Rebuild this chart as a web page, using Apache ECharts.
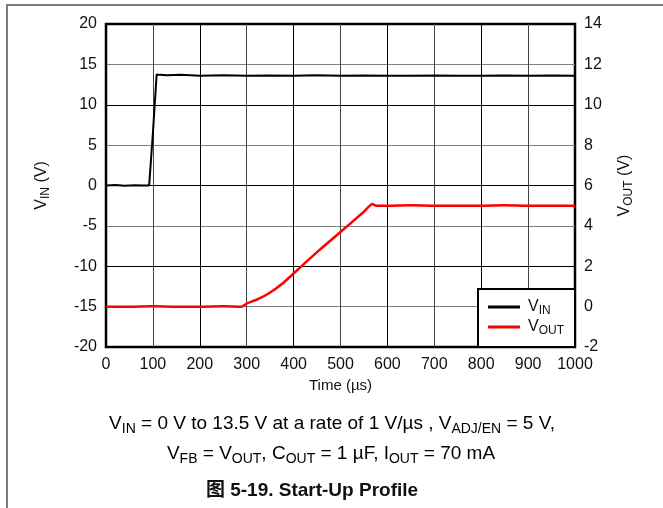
<!DOCTYPE html>
<html>
<head>
<meta charset="utf-8">
<script src="https://cdn.jsdelivr.net/npm/echarts@6/dist/echarts.min.js"></script>
<style>
  html, body { margin: 0; padding: 0; background: #fff; }
  #frame { position: absolute; left: 6px; top: 4px; width: 657px; height: 504px;
    border-top: 2px solid #7a7a7a; border-left: 2px solid #7a7a7a; box-sizing: border-box; }
  #main { position: absolute; left: 0; top: 0; width: 663px; height: 508px; }
</style>
</head>
<body>
<div id="frame"></div>
<div id="main"></div>
<script>
// V_IN trace (left axis, V) vs time (µs)
var vinTime = [0, 20, 40, 60, 80, 92, 100, 108, 115, 130, 160, 200, 250, 300, 350, 400, 450, 500, 550, 600, 650, 700, 750, 800, 850, 900, 950, 1000];
var vinVolt = [0, 0.05, -0.03, 0.02, 0, 0, 6.5, 13.75, 13.7, 13.65, 13.7, 13.6, 13.65, 13.6, 13.62, 13.6, 13.65, 13.6, 13.62, 13.6, 13.6, 13.62, 13.6, 13.6, 13.62, 13.6, 13.62, 13.6];

// V_OUT trace (right axis, V) vs time (µs)
var voutTime = [0, 50, 100, 150, 200, 250, 289, 300, 325, 350, 375, 400, 425, 450, 475, 500, 525, 550, 568, 576, 600, 650, 700, 750, 800, 850, 900, 950, 1000];
var voutVolt = [0, 0, 0.02, 0, 0, 0.02, 0, 0.15, 0.38, 0.7, 1.12, 1.64, 2.18, 2.7, 3.2, 3.7, 4.2, 4.7, 5.08, 5.0, 5.0, 5.02, 5.0, 5.0, 5.0, 5.02, 5.0, 5.0, 5.0];

var xTicks = { min: 0, max: 1000, step: 100 };
var leftTicks = { min: -20, max: 20, step: 5 };
var rightTicks = { min: -2, max: 14, step: 2 };

function zip(a, b) { return a.map(function (v, i) { return [v, b[i]]; }); }

var FONT = '"Liberation Sans", Arial, sans-serif';
var subRich = {
  a: { fontSize: 16, fontFamily: FONT, color: '#111', lineHeight: 20, verticalAlign: 'middle' },
  s: { fontSize: 12, fontFamily: FONT, color: '#111', lineHeight: 14, verticalAlign: 'bottom' }
};
var capRich = {
  n: { fontSize: 19, fontFamily: FONT, color: '#111', lineHeight: 24, verticalAlign: 'middle' },
  s: { fontSize: 14, fontFamily: FONT, color: '#111', lineHeight: 16, verticalAlign: 'bottom' }
};
var tickLabel = { fontSize: 16, fontFamily: FONT, color: '#111' };

var chart = echarts.init(document.getElementById('main'), null, { renderer: 'canvas' });
chart.setOption({
  animation: false,
  grid: { left: 106, right: 88, top: 24, bottom: 161, show: true, borderColor: '#000', borderWidth: 2.5, backgroundColor: 'transparent' },
  xAxis: {
    type: 'value', min: xTicks.min, max: xTicks.max, interval: xTicks.step,
    name: 'Time (µs)', nameLocation: 'middle', nameGap: 29,
    nameTextStyle: { fontSize: 15, fontFamily: FONT, color: '#111' },
    axisLine: { show: false }, axisTick: { show: false },
    axisLabel: Object.assign({ margin: 10, formatter: function (v) { return String(v); } }, tickLabel),
    splitLine: { show: true, lineStyle: { color: ['#000', '#444'], width: 1 } }
  },
  yAxis: [{
    type: 'value', position: 'left', min: leftTicks.min, max: leftTicks.max, interval: leftTicks.step,
    name: '{a|V}{s|IN}{a| (V)}', nameLocation: 'middle', nameGap: 54, nameRotate: 90,
    nameTextStyle: { rich: subRich },
    axisLine: { show: false }, axisTick: { show: false },
    axisLabel: Object.assign({ margin: 9 }, tickLabel),
    splitLine: { show: true, lineStyle: { color: ['#000', '#808080'], width: 1.2 } }
  }, {
    type: 'value', position: 'right', min: rightTicks.min, max: rightTicks.max, interval: rightTicks.step,
    name: '{a|V}{s|OUT}{a| (V)}', nameLocation: 'middle', nameGap: 40, nameRotate: 90,
    nameTextStyle: { rich: subRich },
    axisLine: { show: false }, axisTick: { show: false },
    axisLabel: Object.assign({ margin: 9 }, tickLabel),
    splitLine: { show: false }
  }],
  legend: {
    left: 478, top: 289, orient: 'vertical',
    backgroundColor: '#fff', borderColor: '#000', borderWidth: 2,
    padding: [10, 11, 10, 10], itemGap: 2, itemWidth: 32, itemHeight: 3, icon: 'rect',
    data: ['VIN', 'VOUT'],
    formatter: function (name) { return name === 'VIN' ? '{a|V}{s|IN}' : '{a|V}{s|OUT}'; },
    textStyle: { rich: subRich, padding: [0, 0, 0, 3] }
  },
  series: [{
    name: 'VIN', type: 'line', yAxisIndex: 0, data: zip(vinTime, vinVolt),
    showSymbol: false, symbol: 'none', lineStyle: { color: '#000', width: 2 }, itemStyle: { color: '#000' }
  }, {
    name: 'VOUT', type: 'line', yAxisIndex: 1, data: zip(voutTime, voutVolt), smooth: 0.2,
    showSymbol: false, symbol: 'none', lineStyle: { color: '#ff0000', width: 2.5 }, itemStyle: { color: '#ff0000' }
  }],
  graphic: [{
    type: 'text', x: 332, y: 424,
    style: { text: '{n|V}{s|IN}{n| = 0 V to 13.5 V at a rate of 1 V/µs , V}{s|ADJ/EN}{n| = 5 V,}', rich: capRich, align: 'center', verticalAlign: 'middle' }
  }, {
    type: 'text', x: 331, y: 454,
    style: { text: '{n|V}{s|FB}{n| = V}{s|OUT}{n|, C}{s|OUT}{n| = 1 µF, I}{s|OUT}{n| = 70 mA}', rich: capRich, align: 'center', verticalAlign: 'middle' }
  }, {
    type: 'text', x: 312, y: 491,
    style: { text: '图 5-19. Start-Up Profile', fontSize: 19, fontWeight: 'bold', fontFamily: '"Liberation Sans", Arial, "Noto Sans CJK SC", sans-serif', fill: '#111', align: 'center', verticalAlign: 'middle' }
  }]
});
</script>
</body>
</html>
